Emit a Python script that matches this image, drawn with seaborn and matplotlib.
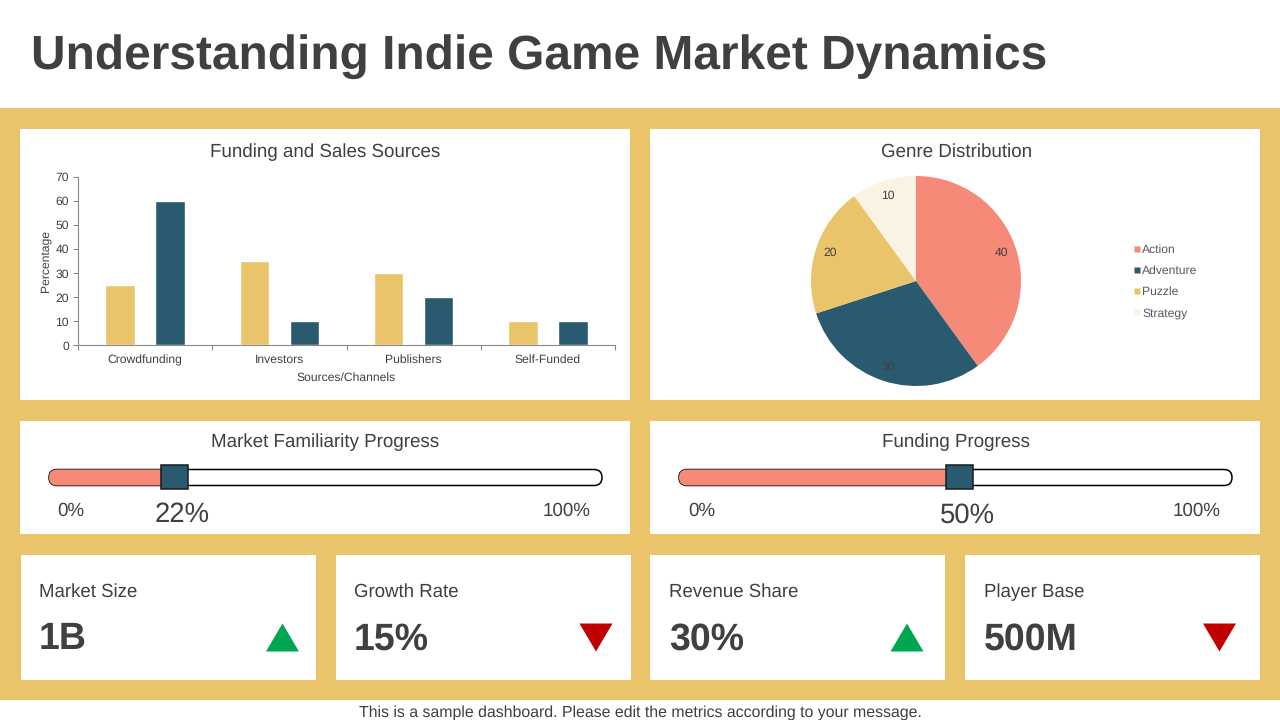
import matplotlib
matplotlib.use("Agg")
import matplotlib.pyplot as plt
from matplotlib.patches import Rectangle, FancyBboxPatch, Polygon
from matplotlib.lines import Line2D
import pandas as pd
import seaborn as sns

# ---- data ----
sources = ["Crowdfunding", "Investors", "Publishers", "Self-Funded"]
funding = [25, 35, 30, 10]
sales = [60, 10, 20, 10]
genres = ["Action", "Adventure", "Puzzle", "Strategy"]
genre_share = [40, 30, 20, 10]
progress_titles = ["Market Familiarity Progress", "Funding Progress"]
progress_values = [22, 50]
kpi_titles = ["Market Size", "Growth Rate", "Revenue Share", "Player Base"]
kpi_values = ["1B", "15%", "30%", "500M"]
kpi_up = [True, False, True, False]

# ---- style ----
GOLD = "#E9C46A"
NAVY = "#2A5A70"
SALMON = "#F48A77"
CREAM = "#FAF3E3"
INK = "#404040"
AXIS = "#8A8A8A"
GREEN = "#00A651"
RED = "#C00000"

sns.set_theme(style="white")
plt.rcParams["font.family"] = ["Liberation Sans", "DejaVu Sans"]
plt.rcParams["text.hinting"] = "no_hinting"
plt.rcParams["text.hinting_factor"] = 8

W, H = 1280, 720
fig = plt.figure(figsize=(W / 100, H / 100), dpi=100, facecolor="white")


def axes_px(x0, y0, x1, y1, **kw):
    return fig.add_axes([x0 / W, 1 - y1 / H, (x1 - x0) / W, (y1 - y0) / H], **kw)


bg = axes_px(0, 0, W, H)
bg.set_xlim(0, W)
bg.set_ylim(H, 0)
bg.axis("off")


def box(x0, y0, x1, y1, color="white", z=1):
    bg.add_patch(Rectangle((x0, y0), x1 - x0, y1 - y0, fc=color, ec="none", zorder=z))


box(0, 108, W, 700, GOLD, 0)
for p in [(20, 129, 630, 400), (650, 129, 1260, 400), (20, 421, 630, 534), (650, 421, 1260, 534),
          (21, 555, 316, 680), (336, 555, 631, 680), (650, 555, 945, 680), (965, 555, 1260, 680)]:
    box(*p)

bg.text(31, 57, "Understanding Indie Game Market Dynamics", fontsize=34.5, fontweight="bold",
        color=INK, va="center", ha="left")
bg.text(640, 712.5, "This is a sample dashboard. Please edit the metrics according to your message.",
        fontsize=11.45, color=INK, va="center", ha="center")
bg.text(325, 152, "Funding and Sales Sources", fontsize=13.5, color=INK, ha="center", va="center", zorder=3)
bg.text(957, 152, "Genre Distribution", fontsize=13.5, color=INK, ha="center", va="center", zorder=3)

# ---- bar chart ----
ax = axes_px(78, 176.7, 615, 345.3)
ax.patch.set_alpha(0)
df = pd.DataFrame({
    "source": sources * 2,
    "value": funding + sales,
    "kind": ["Funding"] * 4 + ["Sales"] * 4,
})
sns.barplot(data=df, x="source", y="value", hue="kind", palette=[GOLD, NAVY], width=0.745, gap=0.41,
            saturation=1, legend=False, ax=ax)
ax.set_xlim(-0.5, len(sources) - 0.5)
ax.set_ylim(0, 70)
ax.set_yticks(range(0, 71, 10))
ax.set_xticks([i - 0.5 for i in range(len(sources) + 1)])
ax.set_xticklabels([])
ax.set_xticks(range(len(sources)), labels=sources, minor=True)
ax.tick_params(axis="x", which="major", length=3.5, width=0.8, color=AXIS, bottom=True)
ax.tick_params(axis="x", which="minor", length=0, labelsize=8.7, labelcolor=INK, pad=6.5, bottom=False)
ax.tick_params(axis="y", length=3.5, width=0.8, color=AXIS, labelsize=8.7, labelcolor=INK, pad=3, left=True)
for side in ["top", "right"]:
    ax.spines[side].set_visible(False)
for side in ["left", "bottom"]:
    ax.spines[side].set_color(AXIS)
    ax.spines[side].set_linewidth(0.8)
ax.set_xlabel("Sources/Channels", fontsize=8.7, color=INK, labelpad=4.5)
ax.set_ylabel("Percentage", fontsize=8.7, color=INK, labelpad=3.5)

# ---- pie chart ----
pie_ax = axes_px(811, 176, 1021, 386)
wedges, _, autotexts = pie_ax.pie(
    genre_share, colors=[SALMON, NAVY, GOLD, CREAM], startangle=90, counterclock=False, radius=1,
    autopct="%.0f", pctdistance=0.857,
    textprops={"fontsize": 8.7, "color": INK},
    wedgeprops={"linewidth": 0},
)
pie_ax.set_xlim(-1, 1)
pie_ax.set_ylim(-1, 1)
handles = [Line2D([], [], ls="", marker="s", ms=4.6, mfc=c, mec="none") for c in [SALMON, NAVY, GOLD, CREAM]]
fig.legend(handles, genres, loc="center left", bbox_to_anchor=(1132.4 / W, 1 - 281.5 / H), frameon=False,
           fontsize=8.7, labelcolor="#595959", labelspacing=0.83, handletextpad=0.0, handlelength=0.8,
           borderpad=0, borderaxespad=0)

# ---- progress bars ----
for title, pct, left, title_x, lo_x, hi_x in zip(progress_titles, progress_values, [49, 679], [325, 956],
                                                 [71, 702], [567, 1197]):
    width = 553
    y0, y1 = 469.5, 485.5
    r = (y1 - y0) / 2
    handle_x = left + 3.8 + pct / 100 * width
    bg.add_patch(FancyBboxPatch((left + r, y0 + r), width - 2 * r, 0,
                                boxstyle=f"round,pad={r},rounding_size={r}", fc="white", ec="black", lw=1.1, zorder=2))
    fill = FancyBboxPatch((left + r, y0 + r), handle_x - left - r, 0,
                          boxstyle=f"round,pad={r},rounding_size={r}", fc=SALMON, ec="none", zorder=3)
    bg.add_patch(fill)
    bg.add_patch(Rectangle((handle_x - 13.5, 465), 27, 24, fc=NAVY, ec="#1A1A1A", lw=1.1, zorder=4))
    bg.text(title_x, 442, title, fontsize=13.5, color=INK, ha="center", va="center", zorder=5)
    bg.text(lo_x, 511, "0%", fontsize=13.5, color=INK, ha="center", va="center", zorder=5)
    bg.text(hi_x, 511, "100%", fontsize=13.5, color=INK, ha="center", va="center", zorder=5)
    bg.text(handle_x + 8, 515, f"{pct}%", fontsize=19.8, color=INK,
            ha="center", va="center", zorder=5)

# ---- KPI cards ----
for title, val, up, tx, mx in zip(kpi_titles, kpi_values, kpi_up, [39, 354, 669, 984], [282.5, 596, 907, 1219.5]):
    bg.text(tx, 592, title, fontsize=13.4, color=INK, ha="left", va="center", zorder=5)
    bg.text(tx, 639.5, val, fontsize=27, fontweight="bold", color=INK, ha="left", va="center", zorder=5)
    tip = 623.5 if up else 651.5
    base = 651.5 if up else 623.5
    bg.add_patch(Polygon([(mx - 16.5, base), (mx + 16.5, base), (mx, tip)], closed=True, fc=GREEN if up else RED,
                         ec="none", zorder=5))

fig.savefig("out.png", dpi=100)
